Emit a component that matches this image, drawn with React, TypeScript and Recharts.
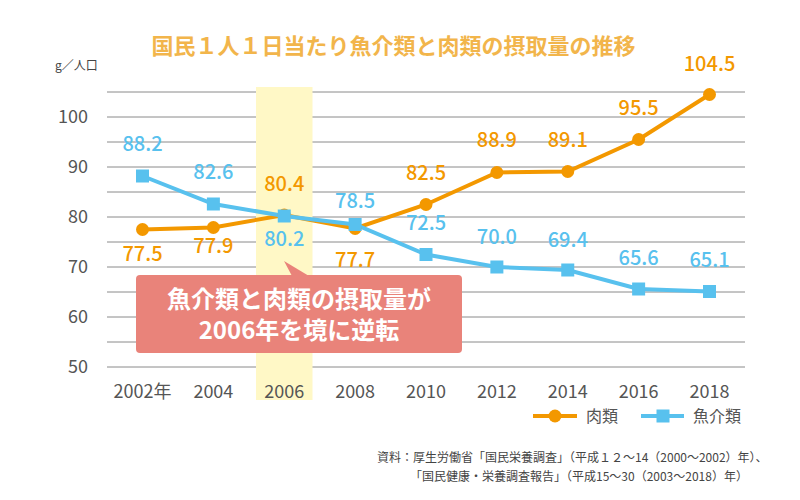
import React from 'react';
import { LineChart, Line, XAxis, YAxis, CartesianGrid, ReferenceArea, LabelList } from 'recharts';

const years = ['2002', '2004', '2006', '2008', '2010', '2012', '2014', '2016', '2018'];
const yearLabels = ['2002年', '2004', '2006', '2008', '2010', '2012', '2014', '2016', '2018'];
const meatValues = [77.5, 77.9, 80.4, 77.7, 82.5, 88.9, 89.1, 95.5, 104.5];
const fishValues = [88.2, 82.6, 80.2, 78.5, 72.5, 70.0, 69.4, 65.6, 65.1];
const yTicks = [50, 55, 60, 65, 70, 75, 80, 85, 90, 95, 100, 105];
const highlightYear = '2006';

const meatName = '肉類';
const fishName = '魚介類';
const titleText = '国民１人１日当たり魚介類と肉類の摂取量の推移';
const unitText = 'g／人口';
const calloutLines = ['魚介類と肉類の摂取量が', '2006年を境に逆転'];
const sourceLines = [
  '資料：厚生労働省「国民栄養調査」（平成１２～14（2000～2002）年）、',
  '「国民健康・栄養調査報告」（平成15～30（2003～2018）年）',
];

// label vertical offsets (style)
const meatLabelDy = [24.5, 18, -31, 31, -32, -32.5, -31.5, -32, -30.5];
const fishLabelDy = [-32, -32, 23, -24, -32, -30, -30.5, -31.5, -32];

const data = years.map((y, i) => ({ year: y, meat: meatValues[i], fish: fishValues[i] }));

const FONT = '"Noto Sans CJK JP", "Noto Sans", sans-serif';
const ORANGE = '#F39800';
const BLUE = '#58C1EE';
const TITLE = '#F2B54B';
const CALLOUT = '#E9837A';
const BAND = '#FFF8C6';
const GRID = '#8a8a8a';
const TEXT = '#555555';

const makeLabel = (color: string, dys: number[]) => (props: any) => {
  const { x, y, value, index } = props;
  if (x == null || y == null) return null;
  return (
    <text
      x={x}
      y={y + dys[index]}
      dy="0.36em"
      textAnchor="middle"
      fill={color}
      fontSize={20}
      fontWeight={500}
      fontFamily={FONT}
    >
      {Number(value).toFixed(1)}
    </text>
  );
};

const SquareDot = (props: any) => {
  const { cx, cy } = props;
  if (cx == null || cy == null) return null;
  const s = 13;
  return <rect x={cx - s / 2} y={cy - s / 2} width={s} height={s} fill={BLUE} />;
};

const CircleDot = (props: any) => {
  const { cx, cy } = props;
  if (cx == null || cy == null) return null;
  return <circle cx={cx} cy={cy} r={6.5} fill={ORANGE} />;
};

const BandShape = (props: any) => {
  const { x, y, width, height } = props;
  const bandW = 56.5;
  const cx = x + (width || 0) / 2;
  return <rect x={cx - bandW / 2} y={y - 5} width={bandW} height={height + 38} fill={BAND} />;
};

const XTick = (props: any) => {
  const { x, y, payload, index } = props;
  return (
    <text x={x} y={y + 25} dy="0.36em" textAnchor="middle" fill={TEXT} fontSize={18} fontFamily={FONT}>
      {yearLabels[index] ?? payload.value}
    </text>
  );
};

const YTick = (props: any) => {
  const { x, y, payload } = props;
  if (payload.value % 10 !== 0) return <g />;
  return (
    <text x={x} y={y} dy="0.36em" textAnchor="end" fill={TEXT} fontSize={18} fontFamily={FONT}>
      {payload.value}
    </text>
  );
};

export default function App() {
  return (
    <div style={{ position: 'absolute', left: 0, top: 0, width: 800, height: 500, background: '#fff', fontFamily: FONT }}>
      <LineChart width={800} height={500} data={data} margin={{ top: 92, right: 55, left: 0, bottom: 103 }}>
        <ReferenceArea
          x1={highlightYear}
          x2={highlightYear}
          y1={50}
          y2={105}
          ifOverflow="visible"
          shape={BandShape}
        />
        <CartesianGrid vertical={false} stroke={GRID} strokeWidth={1} />
        <XAxis
          dataKey="year"
          axisLine={false}
          tickLine={false}
          tickSize={0}
          tickMargin={0}
          height={30}
          interval={0}
          padding={{ left: 35.5, right: 35.5 }}
          tick={<XTick />}
        />
        <YAxis
          domain={[50, 105]}
          ticks={yTicks}
          interval={0}
          axisLine={false}
          tickLine={false}
          tickSize={0}
          tickMargin={19}
          width={107}
          tick={<YTick />}
        />
        <Line
          dataKey="meat"
          name={meatName}
          stroke={ORANGE}
          strokeWidth={4}
          dot={<CircleDot />}
          activeDot={false}
          isAnimationActive={false}
        >
          <LabelList dataKey="meat" content={makeLabel(ORANGE, meatLabelDy)} />
        </Line>
        <Line
          dataKey="fish"
          name={fishName}
          stroke={BLUE}
          strokeWidth={4}
          dot={<SquareDot />}
          activeDot={false}
          isAnimationActive={false}
        >
          <LabelList dataKey="fish" content={makeLabel(BLUE, fishLabelDy)} />
        </Line>
      </LineChart>
      <svg
        width={800}
        height={500}
        style={{ position: 'absolute', left: 0, top: 0, pointerEvents: 'none' }}
        fontFamily={FONT}
      >
        <text x={393.5} y={46} dy="0.36em" textAnchor="middle" fill={TITLE} fontSize={22} fontWeight={700}>
          {titleText}
        </text>
        <text x={55} y={66} dy="0.36em" fill="#444" fontSize={12}>
          {unitText}
        </text>
        <polygon points="284,261 292,276 309,276" fill={CALLOUT} />
        <rect x={136} y={275} width={326} height={78} rx={4} fill={CALLOUT} />
        <text textAnchor="middle" fill="#fff" fontSize={24} fontWeight={700}>
          <tspan x={299} y={299.5} dy="0.36em">{calloutLines[0]}</tspan>
          <tspan x={299} y={330.5} dy="0.36em">{calloutLines[1]}</tspan>
        </text>
        <line x1={533} y1={416} x2={577} y2={416} stroke={ORANGE} strokeWidth={4} />
        <circle cx={555} cy={416} r={6.5} fill={ORANGE} />
        <text x={586} y={416} dy="0.36em" fill={TEXT} fontSize={16}>
          {meatName}
        </text>
        <line x1={641} y1={416} x2={684} y2={416} stroke={BLUE} strokeWidth={4} />
        <rect x={656.5} y={409.5} width={13} height={13} fill={BLUE} />
        <text x={693} y={416} dy="0.36em" fill={TEXT} fontSize={16}>
          {fishName}
        </text>
        <text x={377} y={458} dy="0.36em" fill="#444" fontSize={12}>
          {sourceLines[0]}
        </text>
        <text x={410} y={477} dy="0.36em" fill="#444" fontSize={12}>
          {sourceLines[1]}
        </text>
      </svg>
    </div>
  );
}
